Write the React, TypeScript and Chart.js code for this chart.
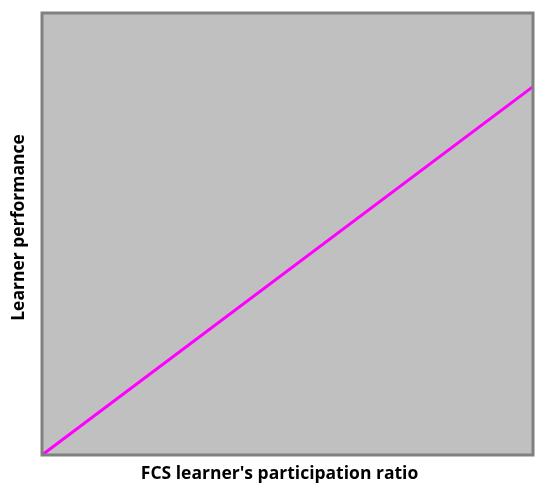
import React, { useEffect, useRef } from "react";
import { Chart, registerables } from "chart.js";
Chart.register(...registerables);

const xValues = [0, 1];
const yValues = [0, 1];
const xTitle = "FCS learner's participation ratio";
const yTitle = "Learner performance";
const titleFont = "bold 17.5px 'Open Sans'";

const framePlugin = {
  id: "frame",
  beforeDraw(chart: any) {
    const { ctx, chartArea: a } = chart;
    ctx.save();
    ctx.fillStyle = "#c0c0c0";
    ctx.fillRect(a.left, a.top, a.right - a.left, a.bottom - a.top);
    ctx.restore();
  },
  afterDraw(chart: any) {
    const { ctx, chartArea: a } = chart;
    ctx.save();
    ctx.strokeStyle = "#808080";
    ctx.lineWidth = 3;
    ctx.strokeRect(a.left, a.top, a.right - a.left, a.bottom - a.top);
    ctx.fillStyle = "#000";
    ctx.font = titleFont;
    ctx.textAlign = "center";
    ctx.textBaseline = "alphabetic";
    ctx.fillText(xTitle, (a.left + a.right) / 2 - 8, a.bottom + 24);
    ctx.translate(a.left - 18, (a.top + a.bottom) / 2 - 6.5);
    ctx.rotate(-Math.PI / 2);
    ctx.fillText(yTitle, 0, 0);
    ctx.restore();
  },
};

export default function App() {
  const ref = useRef<HTMLCanvasElement>(null);
  useEffect(() => {
    document.body.style.margin = "0";
    const chart = new Chart(ref.current!, {
      type: "line",
      data: {
        datasets: [
          {
            data: xValues.map((x, i) => ({ x, y: yValues[i] })),
            borderColor: "#ff00ff",
            borderWidth: 3,
            pointRadius: 0,
            clip: false as any,
          },
        ],
      },
      options: {
        responsive: false,
        animation: false,
        layout: { padding: { top: 13, right: 17, left: 0, bottom: 0 } },
        plugins: { legend: { display: false }, tooltip: { enabled: false } },
        scales: {
          x: {
            type: "linear",
            min: 0,
            max: 1,
            grid: { display: false },
            border: { display: false },
            ticks: { display: false },
            afterFit(s: any) {
              s.height = 37;
            },
          },
          y: {
            min: 0,
            max: 1.2,
            grid: { display: false },
            border: { display: false },
            ticks: { display: false },
            afterFit(s: any) {
              s.width = 42;
            },
          },
        },
      },
      plugins: [framePlugin],
    });
    return () => chart.destroy();
  }, []);
  return (
    <div style={{ position: "relative", width: 550, height: 492, background: "#fff" }}>
      <canvas ref={ref} width={550} height={492} />
    </div>
  );
}
